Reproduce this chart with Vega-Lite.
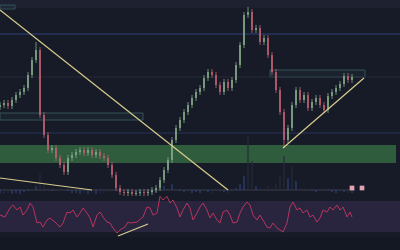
{
"$schema": "https://vega.github.io/schema/vega-lite/v6.json",
"padding": 0,
"spacing": 0,
"bounds": "flush",
"background": "#171b27",
"config": {"view": {"stroke": null}, "concat": {"spacing": 0}},
"datasets": {
"candles": [
{"t":0,"o":89,"c":91,"h":94,"l":86},{"t":4,"o":91,"c":93,"h":96,"l":88},{"t":8,"o":93,"c":90,"h":96,"l":87},{"t":12,"o":90,"c":96,"h":99,"l":87},{"t":16,"o":96,"c":101,"h":104,"l":93},{"t":20,"o":101,"c":104,"h":107,"l":98},{"t":24,"o":104,"c":108,"h":111,"l":101},{"t":28,"o":108,"c":121,"h":124,"l":105},{"t":32,"o":121,"c":136,"h":139,"l":118},{"t":36,"o":136,"c":146,"h":154,"l":133},{"t":40,"o":146,"c":81,"h":149,"l":78},{"t":44,"o":81,"c":61,"h":84,"l":58},{"t":48,"o":61,"c":46,"h":64,"l":43},{"t":52,"o":46,"c":48,"h":51,"l":43},{"t":56,"o":48,"c":38,"h":51,"l":35},{"t":60,"o":38,"c":31,"h":41,"l":28},{"t":64,"o":31,"c":24,"h":34,"l":21},{"t":68,"o":24,"c":38,"h":41,"l":21},{"t":72,"o":38,"c":41,"h":44,"l":35},{"t":76,"o":41,"c":44,"h":47,"l":38},{"t":80,"o":44,"c":46,"h":49,"l":41},{"t":84,"o":46,"c":43,"h":49,"l":40},{"t":88,"o":43,"c":46,"h":49,"l":40},{"t":92,"o":46,"c":41,"h":49,"l":38},{"t":96,"o":41,"c":44,"h":47,"l":38},{"t":100,"o":44,"c":40,"h":47,"l":37},{"t":104,"o":40,"c":38,"h":43,"l":35},{"t":108,"o":38,"c":31,"h":41,"l":28},{"t":112,"o":31,"c":21,"h":34,"l":18},{"t":116,"o":21,"c":8,"h":24,"l":5},{"t":120,"o":8,"c":4,"h":11,"l":1},{"t":124,"o":4,"c":3,"h":7,"l":0},{"t":128,"o":3,"c":4,"h":7,"l":0},{"t":132,"o":4,"c":2,"h":7,"l":0},{"t":136,"o":2,"c":3,"h":6,"l":0},{"t":140,"o":3,"c":4,"h":7,"l":0},{"t":144,"o":4,"c":3,"h":7,"l":0},{"t":148,"o":3,"c":4,"h":7,"l":0},{"t":152,"o":4,"c":6,"h":9,"l":1},{"t":156,"o":6,"c":8,"h":11,"l":3},{"t":160,"o":8,"c":16,"h":19,"l":5},{"t":164,"o":16,"c":26,"h":29,"l":13},{"t":168,"o":26,"c":36,"h":39,"l":23},{"t":172,"o":36,"c":56,"h":59,"l":33},{"t":176,"o":56,"c":68,"h":71,"l":53},{"t":180,"o":68,"c":76,"h":79,"l":65},{"t":184,"o":76,"c":84,"h":87,"l":73},{"t":188,"o":84,"c":91,"h":94,"l":81},{"t":192,"o":91,"c":98,"h":101,"l":88},{"t":196,"o":98,"c":104,"h":107,"l":95},{"t":200,"o":104,"c":108,"h":111,"l":101},{"t":204,"o":108,"c":118,"h":121,"l":105},{"t":208,"o":118,"c":124,"h":127,"l":115},{"t":212,"o":124,"c":121,"h":127,"l":118},{"t":216,"o":121,"c":111,"h":124,"l":108},{"t":220,"o":111,"c":104,"h":114,"l":101},{"t":224,"o":104,"c":114,"h":117,"l":101},{"t":228,"o":114,"c":108,"h":117,"l":105},{"t":232,"o":108,"c":116,"h":119,"l":105},{"t":236,"o":116,"c":131,"h":134,"l":113},{"t":240,"o":131,"c":151,"h":154,"l":128},{"t":244,"o":151,"c":181,"h":184,"l":148},{"t":248,"o":181,"c":184,"h":189,"l":178},{"t":252,"o":184,"c":166,"h":187,"l":163},{"t":256,"o":166,"c":168,"h":171,"l":163},{"t":260,"o":168,"c":154,"h":171,"l":151},{"t":264,"o":154,"c":158,"h":161,"l":151},{"t":268,"o":158,"c":141,"h":161,"l":138},{"t":272,"o":141,"c":124,"h":144,"l":121},{"t":276,"o":124,"c":106,"h":127,"l":103},{"t":280,"o":106,"c":84,"h":109,"l":81},{"t":284,"o":84,"c":56,"h":87,"l":48},{"t":288,"o":56,"c":68,"h":71,"l":53},{"t":292,"o":68,"c":91,"h":94,"l":65},{"t":296,"o":91,"c":106,"h":109,"l":88},{"t":300,"o":106,"c":96,"h":109,"l":93},{"t":304,"o":96,"c":101,"h":104,"l":93},{"t":308,"o":101,"c":88,"h":104,"l":85},{"t":312,"o":88,"c":94,"h":97,"l":85},{"t":316,"o":94,"c":98,"h":101,"l":91},{"t":320,"o":98,"c":91,"h":101,"l":88},{"t":324,"o":91,"c":86,"h":94,"l":83},{"t":328,"o":86,"c":100,"h":103,"l":83},{"t":332,"o":100,"c":104,"h":107,"l":97},{"t":336,"o":104,"c":108,"h":111,"l":101},{"t":340,"o":108,"c":112,"h":115,"l":105},{"t":344,"o":112,"c":120,"h":123,"l":109},{"t":348,"o":120,"c":116,"h":123,"l":113},{"t":352,"o":116,"c":119,"h":122,"l":113}
],
"volume": [
{"t":0,"v":3,"dir":"up"},{"t":4,"v":2,"dir":"down"},{"t":8,"v":3,"dir":"down"},{"t":12,"v":2,"dir":"up"},{"t":16,"v":3,"dir":"up"},{"t":20,"v":2,"dir":"up"},{"t":24,"v":4,"dir":"up"},{"t":28,"v":5,"dir":"up"},{"t":32,"v":6,"dir":"up"},{"t":36,"v":10,"dir":"up"},{"t":40,"v":22,"dir":"down"},{"t":44,"v":12,"dir":"down"},{"t":48,"v":8,"dir":"down"},{"t":52,"v":5,"dir":"up"},{"t":56,"v":6,"dir":"down"},{"t":60,"v":5,"dir":"down"},{"t":64,"v":7,"dir":"down"},{"t":68,"v":5,"dir":"up"},{"t":72,"v":3,"dir":"up"},{"t":76,"v":3,"dir":"up"},{"t":80,"v":2,"dir":"up"},{"t":84,"v":3,"dir":"down"},{"t":88,"v":2,"dir":"up"},{"t":92,"v":3,"dir":"down"},{"t":96,"v":2,"dir":"up"},{"t":100,"v":3,"dir":"down"},{"t":104,"v":3,"dir":"down"},{"t":108,"v":4,"dir":"down"},{"t":112,"v":6,"dir":"down"},{"t":116,"v":8,"dir":"down"},{"t":120,"v":4,"dir":"down"},{"t":124,"v":3,"dir":"down"},{"t":128,"v":3,"dir":"up"},{"t":132,"v":4,"dir":"down"},{"t":136,"v":3,"dir":"up"},{"t":140,"v":2,"dir":"up"},{"t":144,"v":3,"dir":"down"},{"t":148,"v":2,"dir":"up"},{"t":152,"v":3,"dir":"up"},{"t":156,"v":4,"dir":"up"},{"t":160,"v":8,"dir":"up"},{"t":164,"v":10,"dir":"up"},{"t":168,"v":7,"dir":"up"},{"t":172,"v":12,"dir":"up"},{"t":176,"v":6,"dir":"up"},{"t":180,"v":5,"dir":"up"},{"t":184,"v":4,"dir":"up"},{"t":188,"v":5,"dir":"up"},{"t":192,"v":3,"dir":"up"},{"t":196,"v":4,"dir":"up"},{"t":200,"v":3,"dir":"up"},{"t":204,"v":6,"dir":"up"},{"t":208,"v":4,"dir":"up"},{"t":212,"v":3,"dir":"down"},{"t":216,"v":5,"dir":"down"},{"t":220,"v":4,"dir":"down"},{"t":224,"v":4,"dir":"up"},{"t":228,"v":3,"dir":"down"},{"t":232,"v":5,"dir":"up"},{"t":236,"v":8,"dir":"up"},{"t":240,"v":12,"dir":"up"},{"t":244,"v":20,"dir":"up"},{"t":248,"v":60,"dir":"down"},{"t":252,"v":35,"dir":"down"},{"t":256,"v":10,"dir":"up"},{"t":260,"v":8,"dir":"down"},{"t":264,"v":6,"dir":"up"},{"t":268,"v":10,"dir":"down"},{"t":272,"v":8,"dir":"down"},{"t":276,"v":12,"dir":"down"},{"t":280,"v":20,"dir":"down"},{"t":284,"v":40,"dir":"down"},{"t":288,"v":18,"dir":"up"},{"t":292,"v":30,"dir":"down"},{"t":296,"v":15,"dir":"up"},{"t":300,"v":8,"dir":"down"},{"t":304,"v":6,"dir":"up"},{"t":308,"v":7,"dir":"down"},{"t":312,"v":5,"dir":"up"},{"t":316,"v":4,"dir":"up"},{"t":320,"v":5,"dir":"down"},{"t":324,"v":6,"dir":"down"},{"t":328,"v":7,"dir":"up"},{"t":332,"v":4,"dir":"up"},{"t":336,"v":3,"dir":"up"},{"t":340,"v":5,"dir":"up"},{"t":344,"v":4,"dir":"up"},{"t":348,"v":3,"dir":"down"},{"t":352,"v":3,"dir":"up"}
],
"rsi": [
{"t":0,"r":51.9},{"t":5,"r":49.4},{"t":10,"r":61.0},{"t":13,"r":64.8},{"t":17,"r":58.4},{"t":20,"r":62.3},{"t":23,"r":51.9},{"t":27,"r":58.4},{"t":30,"r":67.4},{"t":33,"r":62.3},{"t":37,"r":41.6},{"t":40,"r":42.9},{"t":43,"r":36.5},{"t":47,"r":45.5},{"t":50,"r":48.1},{"t":55,"r":42.9},{"t":60,"r":36.5},{"t":63,"r":41.6},{"t":67,"r":55.8},{"t":70,"r":54.5},{"t":73,"r":58.4},{"t":77,"r":49.4},{"t":80,"r":54.5},{"t":83,"r":61.0},{"t":87,"r":54.5},{"t":90,"r":48.1},{"t":93,"r":36.5},{"t":97,"r":51.9},{"t":100,"r":55.8},{"t":103,"r":49.4},{"t":107,"r":42.9},{"t":110,"r":41.6},{"t":113,"r":35.2},{"t":117,"r":28.7},{"t":120,"r":32.6},{"t":125,"r":36.5},{"t":128,"r":42.9},{"t":130,"r":41.6},{"t":137,"r":42.9},{"t":143,"r":49.4},{"t":147,"r":62.3},{"t":150,"r":61.0},{"t":153,"r":51.9},{"t":157,"r":54.5},{"t":160,"r":76.0},{"t":163,"r":71.3},{"t":167,"r":76.0},{"t":170,"r":67.4},{"t":173,"r":71.3},{"t":177,"r":61.0},{"t":180,"r":49.4},{"t":183,"r":58.4},{"t":187,"r":67.4},{"t":190,"r":61.0},{"t":193,"r":45.5},{"t":197,"r":54.5},{"t":200,"r":62.3},{"t":203,"r":67.4},{"t":207,"r":58.4},{"t":210,"r":48.1},{"t":213,"r":54.5},{"t":217,"r":45.5},{"t":220,"r":41.6},{"t":223,"r":55.8},{"t":227,"r":58.4},{"t":230,"r":51.9},{"t":233,"r":41.6},{"t":237,"r":42.9},{"t":240,"r":54.5},{"t":243,"r":62.3},{"t":247,"r":68.7},{"t":250,"r":64.8},{"t":253,"r":51.9},{"t":257,"r":45.5},{"t":260,"r":51.9},{"t":263,"r":45.5},{"t":267,"r":36.5},{"t":270,"r":35.2},{"t":273,"r":41.6},{"t":277,"r":35.2},{"t":280,"r":32.6},{"t":283,"r":30.0},{"t":287,"r":41.6},{"t":290,"r":62.3},{"t":293,"r":68.7},{"t":297,"r":58.4},{"t":300,"r":61.0},{"t":303,"r":54.5},{"t":307,"r":58.4},{"t":310,"r":49.4},{"t":313,"r":51.9},{"t":317,"r":42.9},{"t":320,"r":48.1},{"t":323,"r":58.4},{"t":327,"r":55.8},{"t":330,"r":62.3},{"t":333,"r":58.4},{"t":337,"r":64.8},{"t":340,"r":58.4},{"t":343,"r":62.3},{"t":347,"r":49.4},{"t":350,"r":55.8},{"t":352,"r":49.4}
]
},
"vconcat": [
{
"width": 400, "height": 196,
"layer": [
{"data": {"values": [{"a":0,"b":400,"p1":188,"p2":196}]},
 "mark": {"type": "rect", "fill": "#1d2130", "clip": true},
 "encoding": {"x": {"field": "a", "type": "quantitative", "scale": {"domain": [0, 400], "nice": false, "zero": false, "padding": 0}, "axis": null}, "x2": {"field": "b"},
  "y": {"field": "p1", "type": "quantitative", "scale": {"domain": [0, 196], "nice": false, "zero": false, "padding": 0}, "axis": null}, "y2": {"field": "p2"}}},
{"data": {"values": [{"a":0,"b":396,"p1":33,"p2":51}]},
 "mark": {"type": "rect", "fill": "#2f5c3d", "clip": true},
 "encoding": {"x": {"field": "a", "type": "quantitative", "axis": null}, "x2": {"field": "b"},
  "y": {"field": "p1", "type": "quantitative", "axis": null}, "y2": {"field": "p2"}}},
{"data": {"values": [{"a":0,"b":143,"p1":76,"p2":83},{"a":270,"b":365,"p1":119,"p2":126},{"a":0,"b":15,"p1":187,"p2":191}]},
 "mark": {"type": "rect", "fill": "#3b5f68", "fillOpacity": 0.1, "stroke": "#34525a", "strokeWidth": 1, "clip": true},
 "encoding": {"x": {"field": "a", "type": "quantitative", "axis": null}, "x2": {"field": "b"},
  "y": {"field": "p1", "type": "quantitative", "axis": null}, "y2": {"field": "p2"}}},
{"data": {"values": [{"p":162,"a":0,"b":400,"k":"blue"},{"p":119,"a":0,"b":400,"k":"gray"},{"p":63,"a":0,"b":400,"k":"blue2"},{"p":6,"a":0,"b":355,"k":"base"}]},
 "mark": {"type": "rule", "strokeWidth": 1, "clip": true},
 "encoding": {"x": {"field": "a", "type": "quantitative", "axis": null}, "x2": {"field": "b"},
  "y": {"field": "p", "type": "quantitative", "axis": null},
  "color": {"field": "k", "type": "nominal", "legend": null, "scale": {"domain": ["blue","gray","blue2","base"], "range": ["#2e4378","#262a38","#283259","#3a3e4c"]}}}},
{"data": {"name": "volume"},
 "mark": {"type": "bar", "width": 2, "opacity": 0.6, "clip": true},
 "encoding": {"x": {"field": "t", "type": "quantitative", "axis": null},
  "y": {"field": "v", "type": "quantitative", "axis": null, "stack": null},
  "y2": {"datum": 6},
  "color": {"field": "dir", "type": "nominal", "legend": null, "scale": {"domain": ["up","down"], "range": ["#4a7f72","#8c3c50"]}}}},
{"data": {"name": "candles"},
 "mark": {"type": "rule", "strokeWidth": 1, "opacity": 0.8, "clip": true},
 "encoding": {"x": {"field": "t", "type": "quantitative", "axis": null},
  "y": {"field": "l", "type": "quantitative", "axis": null}, "y2": {"field": "h"},
  "color": {"condition": {"test": "datum.c >= datum.o", "value": "#86a98a"}, "value": "#bf6272"}}},
{"data": {"name": "candles"},
 "mark": {"type": "bar", "width": 2, "opacity": 0.8, "clip": true},
 "encoding": {"x": {"field": "t", "type": "quantitative", "axis": null},
  "y": {"field": "o", "type": "quantitative", "axis": null}, "y2": {"field": "c"},
  "color": {"condition": {"test": "datum.c >= datum.o", "value": "#86a98a"}, "value": "#bf6272"}}},
{"data": {"values": [{"a":0,"p1":186,"b":228,"p2":6},{"a":0,"p1":18,"b":92,"p2":6},{"a":283,"p1":48,"b":364,"p2":118}]},
 "mark": {"type": "rule", "color": "#d8cd8c", "strokeWidth": 1.2, "clip": true},
 "encoding": {"x": {"field": "a", "type": "quantitative", "axis": null}, "x2": {"field": "b"},
  "y": {"field": "p1", "type": "quantitative", "axis": null}, "y2": {"field": "p2"}}},
{"data": {"values": [{"t":352,"p":8},{"t":362,"p":8}]},
 "mark": {"type": "point", "shape": "square", "size": 22, "filled": true, "color": "#e2a3b4", "opacity": 1, "clip": true},
 "encoding": {"x": {"field": "t", "type": "quantitative", "axis": null},
  "y": {"field": "p", "type": "quantitative", "axis": null}}}
]
},
{
"width": 400, "height": 54,
"layer": [
{"data": {"values": [{"a":0,"b":400,"r1":30,"r2":70}]},
 "mark": {"type": "rect", "fill": "#29253f", "clip": true},
 "encoding": {"x": {"field": "a", "type": "quantitative", "scale": {"domain": [0, 400], "nice": false, "padding": 0}, "axis": null}, "x2": {"field": "b"},
  "y": {"field": "r1", "type": "quantitative", "scale": {"domain": [6.8, 76.5], "nice": false, "zero": false, "padding": 0}, "axis": null}, "y2": {"field": "r2"}}},
{"data": {"values": [{"a":0,"b":400,"r1":6.8,"r2":23.5}]},
 "mark": {"type": "rect", "fill": "#141823", "clip": true},
 "encoding": {"x": {"field": "a", "type": "quantitative", "axis": null}, "x2": {"field": "b"},
  "y": {"field": "r1", "type": "quantitative", "axis": null}, "y2": {"field": "r2"}}},
{"data": {"name": "rsi"},
 "mark": {"type": "line", "color": "#b8345f", "strokeWidth": 1, "clip": true},
 "encoding": {"x": {"field": "t", "type": "quantitative", "axis": null},
  "y": {"field": "r", "type": "quantitative", "axis": null}}},
{"data": {"values": [{"a":118,"r1":24.8,"b":148,"r2":40.3}]},
 "mark": {"type": "rule", "color": "#d8cd8c", "strokeWidth": 1.2, "clip": true},
 "encoding": {"x": {"field": "a", "type": "quantitative", "axis": null}, "x2": {"field": "b"},
  "y": {"field": "r1", "type": "quantitative", "axis": null}, "y2": {"field": "r2"}}}
]
}
]
}
